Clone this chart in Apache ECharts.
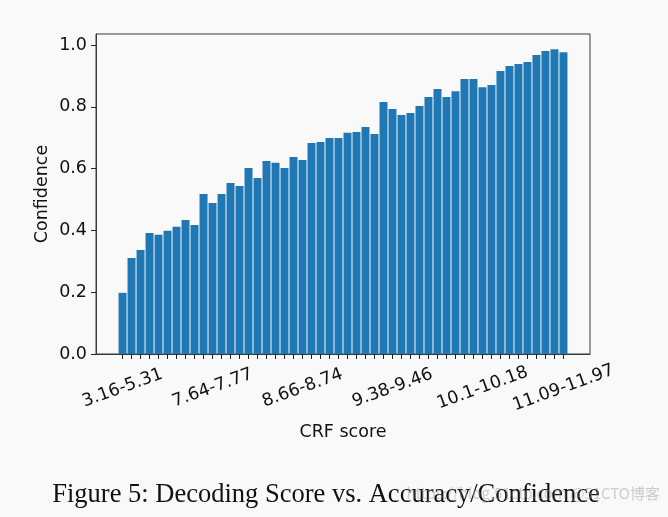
<!DOCTYPE html>
<html><head><meta charset="utf-8">
<script src="https://cdn.jsdelivr.net/npm/echarts@6/dist/echarts.min.js"></script>
<style>html,body{margin:0;padding:0;background:#f9f9f9;}#c{width:668px;height:517px;}</style>
</head><body><div id="c"></div>
<script>
// 50 CRF-score bins; only some bin names are printed on the axis
const binCount = 50;
const tickIndices = [0, 10, 20, 30, 40, 49];
const tickLabels = ['3.16-5.31', '7.64-7.77', '8.66-8.74', '9.38-9.46', '10.1-10.18', '11.09-11.97'];
const confidence = [
  0.198, 0.311, 0.337, 0.392, 0.386, 0.399, 0.412, 0.434, 0.418, 0.518,
  0.489, 0.518, 0.554, 0.544, 0.602, 0.570, 0.625, 0.619, 0.602, 0.638,
  0.628, 0.683, 0.686, 0.699, 0.699, 0.716, 0.719, 0.735, 0.712, 0.816,
  0.793, 0.774, 0.780, 0.803, 0.832, 0.858, 0.832, 0.851, 0.890, 0.890,
  0.864, 0.871, 0.916, 0.932, 0.939, 0.945, 0.968, 0.981, 0.987, 0.977
];
const yTicks = [0, 0.2, 0.4, 0.6, 0.8, 1.0];
const xTitle = 'CRF score';
const yTitle = 'Confidence';
const caption = 'Figure 5: Decoding Score vs. Accuracy/Confidence';
const watermark = 'https://blog.51cto.com @51CTO博客';

const binIdx = confidence.map((_, i) => i);
const barData = confidence.map((v, i) => [i, v]);
const font = 'DejaVu Sans';
const axisColor = '#3a3a3a';
const fs = 17.5;

const chart = echarts.init(document.getElementById('c'), null, {renderer: 'canvas'});
chart.setOption({
  backgroundColor: '#f9f9f9',
  animation: false,
  title: {
    text: caption,
    left: 321, top: 477, textAlign: 'center',
    textStyle: {fontFamily: 'Liberation Serif', fontSize: 26.5, fontWeight: 'normal', color: '#111'}
  },
  graphic: [{
    type: 'text', right: 8, top: 486, silent: true, z: 100,
    style: {text: watermark, fontFamily: 'Noto Sans CJK SC', fontSize: 15, fill: 'rgba(150,150,150,0.45)'}
  }],
  grid: {left: 96, right: 78, top: 34, bottom: 163, show: true, borderColor: axisColor, borderWidth: 1, containLabel: false},
  xAxis: {
    type: 'value', min: -2.95, max: 51.95,
    name: xTitle, nameLocation: 'middle', nameGap: 78, nameMoveOverlap: false,
    nameTextStyle: {fontFamily: font, fontSize: fs, color: '#111', verticalAlign: 'middle'},
    axisLine: {show: true, onZero: false, lineStyle: {color: axisColor, width: 1}},
    axisTick: {show: true, length: 5, customValues: binIdx, lineStyle: {color: '#222', width: 1}},
    splitLine: {show: false},
    axisLabel: {
      customValues: tickIndices, rotate: 20, margin: 34, align: 'center', verticalAlign: 'middle',
      fontFamily: font, fontSize: fs, color: '#111',
      formatter: v => { const k = tickIndices.indexOf(Math.round(v)); return k >= 0 ? tickLabels[k] : ''; }
    }
  },
  yAxis: {
    type: 'value', min: 0, max: 1.036,
    name: yTitle, nameLocation: 'middle', nameGap: 54, nameRotate: 90, nameMoveOverlap: false,
    nameTextStyle: {fontFamily: font, fontSize: fs, color: '#111', verticalAlign: 'middle'},
    axisLine: {show: true, onZero: false, lineStyle: {color: axisColor, width: 1}},
    axisTick: {show: true, length: 5, customValues: yTicks, lineStyle: {color: '#222', width: 1}},
    splitLine: {show: false},
    axisLabel: {customValues: yTicks, margin: 9, fontFamily: font, fontSize: fs, color: '#111',
      formatter: v => v.toFixed(1)}
  },
  series: [{
    type: 'bar', data: barData, barWidth: 8,
    itemStyle: {color: '#1f77b4'}
  }]
});
</script></body></html>
